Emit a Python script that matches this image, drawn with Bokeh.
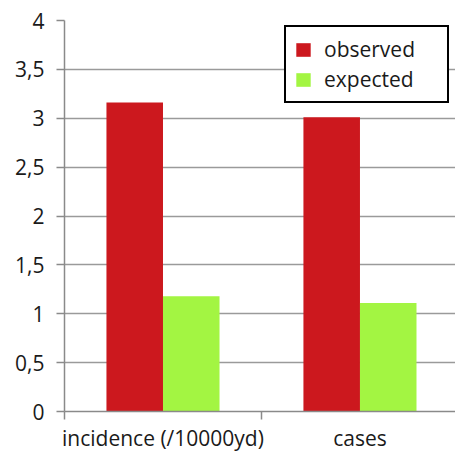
from bokeh.plotting import figure
from bokeh.models import FixedTicker, Range1d, Legend, LegendItem
from bokeh.embed import file_html
from bokeh.resources import INLINE

categories = ["incidence (/10000yd)", "cases"]
observed = [3.16, 3.01]
expected = [1.18, 1.11]
series_names = ["observed", "expected"]
y_ticks = [0, 0.5, 1, 1.5, 2, 2.5, 3, 3.5, 4]
y_tick_labels = ["0", "0,5", "1", "1,5", "2", "2,5", "3", "3,5", "4"]

RED = "#CC181E"
GREEN = "#A3F542"
FONT = "Open Sans"

p = figure(frame_width=391, frame_height=391, output_backend="svg", toolbar_location=None,
           x_range=Range1d(0, 1.985), y_range=Range1d(0, 4),
           min_border_left=64, min_border_right=0, min_border_top=20, min_border_bottom=0)
p.outline_line_color = None
p.background_fill_color = "white"
p.border_fill_color = "white"

centers = [i + 0.5 for i in range(len(categories))]
bw = 0.287
off = 0.1435
r1 = p.vbar(x=[c - off for c in centers], top=observed, width=bw, fill_color=RED, line_color=None)
r2 = p.vbar(x=[c + off for c in centers], top=expected, width=bw, fill_color=GREEN, line_color=None)

# axes
p.yaxis.ticker = FixedTicker(ticks=y_ticks)
p.yaxis.major_label_overrides = {t: l for t, l in zip(y_ticks, y_tick_labels)}
p.yaxis.axis_line_color = "#8a8a8a"
p.yaxis.axis_line_width = 1.5
p.yaxis.major_tick_line_color = "#8a8a8a"
p.yaxis.major_tick_line_width = 1.5
p.yaxis.major_tick_out = 8
p.yaxis.major_tick_in = 0
p.yaxis.minor_tick_line_color = None
p.yaxis.major_label_text_font = FONT
p.yaxis.major_label_text_font_size = "21px"
p.yaxis.major_label_text_color = "#1a1a1a"
p.yaxis.major_label_standoff = 12

p.xaxis.ticker = FixedTicker(ticks=centers, minor_ticks=[0, 1, 2])
p.xaxis.major_label_overrides = {c: n for c, n in zip(centers, categories)}
p.xaxis.axis_line_color = "#8a8a8a"
p.xaxis.axis_line_width = 1.5
p.xaxis.major_tick_line_color = None
p.xaxis.major_tick_out = 8
p.xaxis.major_tick_in = 0
p.xaxis.minor_tick_line_color = "#8a8a8a"
p.xaxis.minor_tick_line_width = 1.5
p.xaxis.minor_tick_out = 8
p.xaxis.minor_tick_in = 0
p.xaxis.major_label_text_font = FONT
p.xaxis.major_label_text_font_size = "21px"
p.xaxis.major_label_text_color = "#1a1a1a"
p.xaxis.major_label_standoff = 4

p.xgrid.grid_line_color = None
p.ygrid.grid_line_color = "#9a9a9a"
p.ygrid.grid_line_width = 1.5

legend = Legend(items=[LegendItem(label=series_names[0], renderers=[r1]),
                       LegendItem(label=series_names[1], renderers=[r2])],
                location=(220, 308))
legend.border_line_color = "black"
legend.border_line_alpha = 1.0
legend.border_line_width = 2
legend.background_fill_color = "white"
legend.background_fill_alpha = 1
legend.label_text_font = FONT
legend.label_text_font_size = "21px"
legend.label_text_color = "#1a1a1a"
legend.glyph_width = 18
legend.glyph_height = 17
legend.padding = 8
legend.margin = 0
legend.spacing = 2
legend.label_standoff = 12
legend.label_height = 24
legend.label_width = 115
p.add_layout(legend)

open("out.html", "w").write(file_html(p, INLINE))
